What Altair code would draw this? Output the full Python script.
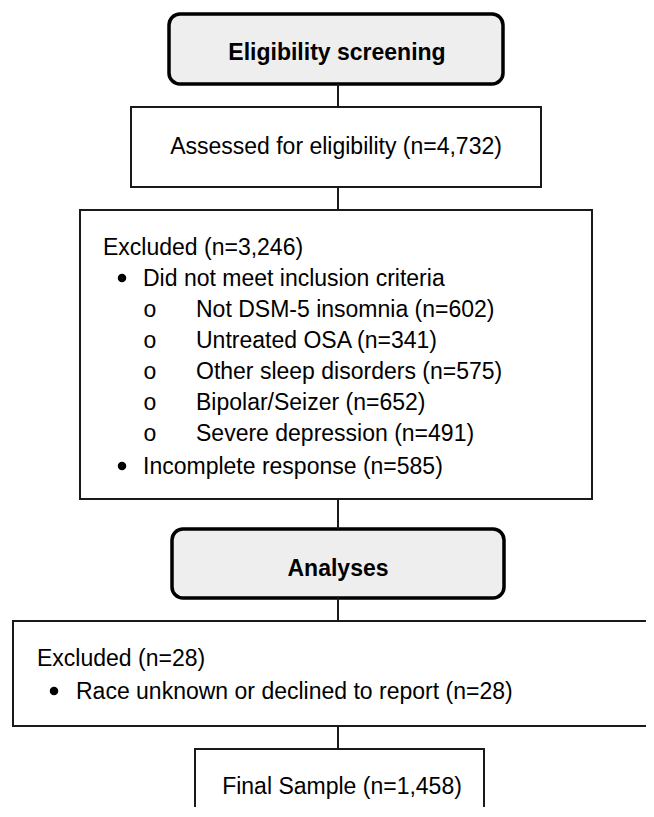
import altair as alt
import pandas as pd

# ---- content ----
header_labels = ["Eligibility screening", "Analyses"]
plain_labels = ["Assessed for eligibility (n=4,732)", "Final Sample (n=1,458)"]

excl1_lines = [
    "Excluded (n=3,246)",
    "Did not meet inclusion criteria",
    "Not DSM-5 insomnia (n=602)",
    "Untreated OSA (n=341)",
    "Other sleep disorders (n=575)",
    "Bipolar/Seizer (n=652)",
    "Severe depression (n=491)",
    "Incomplete response (n=585)",
]
excl1_levels = [0, 1, 2, 2, 2, 2, 2, 1]

excl2_lines = ["Excluded (n=28)", "Race unknown or declined to report (n=28)"]
excl2_levels = [0, 1]

# ---- layout (pixel coordinates of the page) ----
W, H = 654, 817
M = 8
boxes = pd.DataFrame({
    "x":  [169, 131, 80, 172, 13, 195],
    "x2": [503, 541, 592, 504, 690, 484],
    "y":  [14, 107, 210, 529, 621, 749],
    "y2": [84, 187, 499, 598, 726, 860],
    "kind": ["round", "plain", "plain", "round", "plain", "plain"],
})
cx = 338
links = pd.DataFrame({"x": [cx] * 5,
                      "y": [84, 187, 499, 598, 726],
                      "y2": [107, 210, 529, 621, 749]})

center_text = pd.DataFrame({
    "label": [header_labels[0], plain_labels[0], header_labels[1], plain_labels[1]],
    "x": [337, 336, 338, 342],
    "y": [53, 147, 569, 787],
    "weight": ["bold", "normal", "bold", "normal"],
})

text_x = {0: 103, 1: 143, 2: 196}
bullet_x = {1: 122, 2: 150}
ys1 = [248, 279, 310, 341, 372, 403, 434, 467]

rows, dots, rings = [], [], []
for t, lv, yy in zip(excl1_lines, excl1_levels, ys1):
    rows.append({"label": t, "x": text_x[lv], "y": yy})
    if lv == 1:
        dots.append({"x": bullet_x[lv], "y": yy - 1})
    elif lv == 2:
        rings.append({"label": "o", "x": bullet_x[lv], "y": yy})
text_x2 = {0: 37, 1: 76}
ys2 = [659, 692]
for t, lv, yy in zip(excl2_lines, excl2_levels, ys2):
    rows.append({"label": t, "x": text_x2[lv], "y": yy})
    if lv == 1:
        dots.append({"x": 54, "y": yy - 1})
left_text = pd.DataFrame(rows)
dot_df = pd.DataFrame(dots)
ring_df = pd.DataFrame(rings)

# chart occupies page pixels M..W-M and M..H-M (1:1 mapping, no overflow)
CW, CH = W - 2 * M, H - 2 * M - 2
xs = alt.Scale(domain=[M, M + CW], nice=False, zero=False)
ysc = alt.Scale(domain=[M, M + CH], nice=False, zero=False, reverse=True)
X = lambda f: alt.X(f, type="quantitative", scale=xs, axis=None)
Y = lambda f: alt.Y(f, type="quantitative", scale=ysc, axis=None)

FONT = "Liberation Sans"
FS = 23

plain_boxes = alt.Chart(boxes).transform_filter(alt.datum.kind == "plain").mark_rect(
    fill="white", stroke="#1a1a1a", strokeWidth=2, clip=True
).encode(x=X("x"), x2="x2", y=Y("y"), y2="y2")

round_boxes = alt.Chart(boxes).transform_filter(alt.datum.kind == "round").mark_rect(
    fill="#eeeeee", stroke="black", strokeWidth=3.5, cornerRadius=11, clip=True
).encode(x=X("x"), x2="x2", y=Y("y"), y2="y2")

rules = alt.Chart(links).mark_rule(color="#1a1a1a", strokeWidth=2).encode(
    x=X("x"), y=Y("y"), y2="y2")

ctext_n = alt.Chart(center_text).transform_filter(alt.datum.weight == "normal").mark_text(
    font=FONT, fontSize=FS, align="center", baseline="middle", color="black"
).encode(x=X("x"), y=Y("y"), text="label")
ctext_b = alt.Chart(center_text).transform_filter(alt.datum.weight == "bold").mark_text(
    font=FONT, fontSize=FS, fontWeight="bold", align="center", baseline="middle", color="black"
).encode(x=X("x"), y=Y("y"), text="label")

ltext = alt.Chart(left_text).mark_text(
    font=FONT, fontSize=FS, align="left", baseline="middle", color="black"
).encode(x=X("x"), y=Y("y"), text="label")

ring_text = alt.Chart(ring_df).mark_text(
    font=FONT, fontSize=FS, align="center", baseline="middle", color="black"
).encode(x=X("x"), y=Y("y"), text="label")

dot_marks = alt.Chart(dot_df).mark_point(
    shape="circle", filled=True, size=72, color="black", opacity=1
).encode(x=X("x"), y=Y("y"))

chart = alt.layer(plain_boxes, round_boxes, rules, ctext_n, ctext_b, ltext,
                  ring_text, dot_marks).properties(
    width=CW, height=CH, padding=0, autosize=alt.AutoSizeParams(type="none")
).configure_view(strokeWidth=0)

chart.save("out.html", embed_options={"renderer": "svg", "actions": False})
